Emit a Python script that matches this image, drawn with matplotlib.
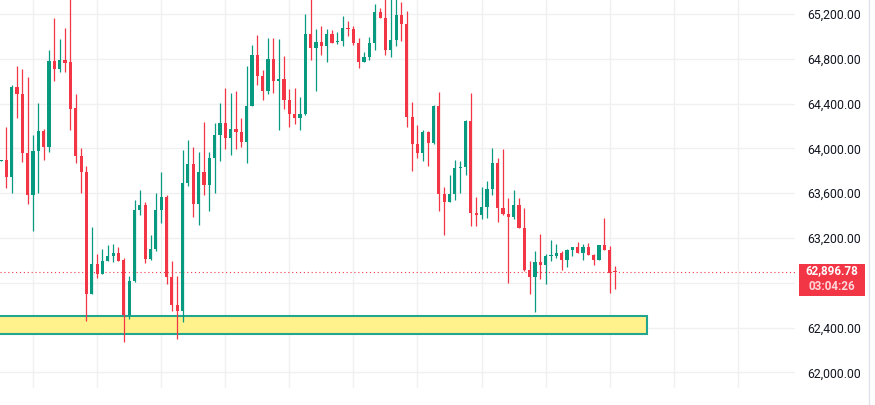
import numpy as np
import matplotlib
matplotlib.use("Agg")
import matplotlib.pyplot as plt
import matplotlib.transforms as mtransforms
from matplotlib.patches import Rectangle

# OHLC, one value per candle
opens = [63890, 63900, 63740, 64545, 64490, 63955, 63580, 63975, 64155, 64015,
         64780, 64710, 64790, 64770, 64360, 63935, 63790, 62700, 62965, 62875,
         62995, 63040, 63065, 63000, 62510, 62815, 63450, 63495, 63015, 63100,
         63450, 63565, 62855, 62605, 62545, 63690, 63860, 63505, 63790, 63675,
         63915, 64120, 64225, 64095, 64175, 64150, 64060, 64380, 64835, 64650,
         64515, 64800, 64605, 64620, 64435, 64310, 64275, 64305, 65020, 64900,
         64950, 64910, 65020, 64950, 64960, 65075, 65065, 64940, 64775, 64815,
         64940, 65220, 65165, 64880, 64970, 65190, 65115, 64280, 64035, 63955,
         64150, 64050, 64380, 63595, 63525, 63595, 63825, 63835, 64240, 63425,
         63405, 63480, 63640, 63865, 63470, 63410, 63390, 63490, 63290, 62910,
         62855, 62985, 62955, 63040, 63040, 63065, 63005, 63090, 63120, 63070,
         63120, 63050, 63000, 63135, 63095, 62905]
highs = [63900, 64195, 64565, 64735, 64710, 64635, 64120, 64405, 64175, 64880,
         65165, 64975, 65075, 65330, 64485, 64005, 63840, 63300, 63055, 63100,
         63135, 63145, 63120, 63020, 62860, 63540, 63630, 63520, 63225, 63600,
         63790, 63585, 62995, 62860, 63985, 64075, 64010, 63965, 64235, 63965,
         64225, 64405, 64540, 64495, 64510, 64270, 64735, 64925, 65010, 64700,
         64985, 64985, 64975, 64825, 64530, 64540, 64460, 65200, 65340, 65065,
         65095, 65065, 65055, 65040, 65180, 65135, 65095, 64985, 64860, 64995,
         65290, 65255, 65340, 65340, 65340, 65305, 65225, 64415, 64210, 64165,
         64155, 64390, 64505, 63655, 63765, 63895, 63890, 64250, 64495, 63570,
         63655, 63710, 64005, 63910, 63995, 63555, 63630, 63560, 63470, 62995,
         63085, 63235, 63055, 63180, 63150, 63085, 63105, 63120, 63160, 63145,
         63155, 63060, 63140, 63380, 63130, 62950]
lows = [63890, 63650, 63600, 64275, 63880, 63505, 63265, 63600, 63900, 63970,
        64605, 64680, 64680, 64165, 63870, 63605, 62460, 62700, 62845, 62875,
        62995, 62985, 62995, 62275, 62480, 62805, 63405, 62975, 63005, 63085,
        63335, 62785, 62550, 62295, 62445, 63660, 63390, 63320, 63585, 63445,
        63605, 63890, 63995, 63945, 63990, 64015, 63870, 64375, 64570, 64430,
        64490, 64495, 64165, 64355, 64195, 64220, 64160, 64300, 64785, 64515,
        64835, 64775, 64945, 64930, 64915, 65005, 64925, 64720, 64775, 64790,
        64880, 65165, 64835, 64820, 64915, 64955, 64195, 63800, 63915, 63890,
        63845, 64040, 63445, 63230, 63525, 63535, 63605, 63765, 63310, 63310,
        63365, 63375, 63580, 63345, 63405, 62800, 63365, 63290, 62905, 62695,
        62535, 62830, 62790, 62990, 63025, 62915, 62945, 63040, 63070, 63005,
        63050, 62960, 63000, 63095, 62710, 62745]
closes = [63900, 63740, 64545, 64490, 63955, 63580, 63975, 64155, 64015, 64780,
          64710, 64790, 64760, 64355, 63935, 63790, 62700, 62965, 62875, 62995,
          63040, 63065, 62995, 62510, 62815, 63450, 63495, 63015, 63100, 63450,
          63565, 62855, 62605, 62545, 63690, 63860, 63505, 63790, 63675, 63915,
          64120, 64225, 64095, 64175, 64150, 64060, 64380, 64835, 64650, 64515,
          64800, 64605, 64620, 64435, 64310, 64275, 64305, 65020, 64900, 64950,
          64910, 65020, 64945, 64960, 65075, 65065, 64940, 64775, 64815, 64940,
          65220, 65165, 64880, 64970, 65190, 65115, 64280, 64035, 63955, 64150,
          64050, 64380, 63595, 63525, 63595, 63825, 63835, 64240, 63425, 63405,
          63480, 63640, 63865, 63470, 63410, 63390, 63490, 63290, 62910, 62855,
          62985, 62955, 63040, 63050, 63065, 63005, 63095, 63120, 63070, 63120,
          63050, 63000, 63135, 63095, 62890, 62896.78]

price_ticks = [62000, 62400, 62800, 63200, 63600, 64000, 64400, 64800, 65200]
hidden_tick = 62800  # covered by the last-price label on the scale
zone_low, zone_high = 62345, 62505
zone_end = 121
last_price = closes[-1]
countdown = "03:04:26"

GREEN = "#089981"
RED = "#F23645"

o = np.array(opens, dtype=float)
h = np.array(highs, dtype=float)
l = np.array(lows, dtype=float)
c = np.array(closes, dtype=float)
x = np.arange(len(o))
up = c >= o
cols = np.where(up, GREEN, RED)

fig = plt.figure(figsize=(8.75, 4.05), dpi=100)
ax = fig.add_axes([0, 17 / 405, 795 / 875, 388 / 405])

# support zone
ax.add_patch(Rectangle((-5, zone_low), zone_end + 5, zone_high - zone_low,
                       facecolor="#FFF18C", edgecolor="#22A68F", lw=1.5, zorder=1))

# candles
ax.vlines(x, l, h, colors=cols, lw=0.9, zorder=3)
body_lo = np.minimum(o, c)
body_h = np.maximum(np.abs(c - o), 10)
ax.bar(x, body_h, bottom=body_lo, width=0.6, color=cols, lw=0, zorder=4)

# last price line
ax.axhline(last_price, color=RED, lw=0.8, ls=(0, (1, 2.5)), zorder=2)

ax.set_xlim(-0.19, 148.7)
ax.set_ylim(61860, 65325)

ax.set_xticks(np.arange(6, 149, 12))
ax.set_yticks(price_ticks)
ax.grid(True, color="#F0F0F0", lw=1, zorder=0)
ax.set_axisbelow(True)
ax.tick_params(axis="x", length=0, labelbottom=False)
ax.tick_params(axis="y", length=0, labelleft=False, labelright=True, pad=9,
               labelsize=8.8, labelcolor="#131722")
ax.set_yticklabels(["" if v == hidden_tick else f"{v:,.2f}" for v in price_ticks],
                   fontfamily="Roboto")
for s in ax.spines.values():
    s.set_visible(False)

# price label on the scale
tr = mtransforms.blended_transform_factory(ax.transAxes, ax.transData)
ax.add_patch(Rectangle((1.005, last_price - 212), 0.083, 281, transform=tr,
                       facecolor=RED, edgecolor="none", clip_on=False, zorder=5))
ax.text(1.0465, last_price + 10, f"{last_price:,.2f}", transform=tr, ha="center",
        va="center", color="white", fontsize=8.4, fontfamily="Roboto",
        fontweight="bold", zorder=6, clip_on=False)
ax.text(1.0465, last_price - 132, countdown, transform=tr, ha="center",
        va="center", color="#FFD6DA", fontsize=8.4, fontfamily="Roboto",
        fontweight="bold", zorder=6, clip_on=False)

# scale border at the far right
fig.add_artist(plt.Line2D([869 / 875, 869 / 875], [0, 1], color="#E0E3EB", lw=1))

fig.savefig("out.png", dpi=100, facecolor="white")
